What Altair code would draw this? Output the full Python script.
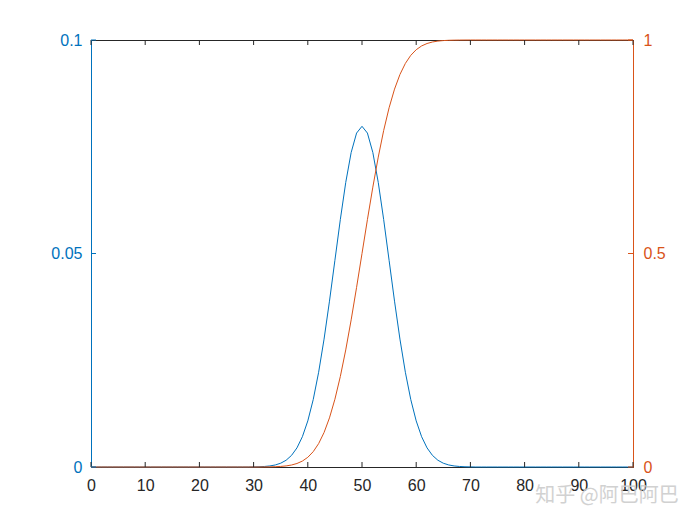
import altair as alt
import pandas as pd

# ---- data ----
x_values = list(range(0, 101))

pdf_values = [
    0, 0, 0, 0, 0, 0, 0, 0, 0, 0,
    0, 0, 0, 0, 0, 0, 0, 0, 0, 0,
    0, 0, 0, 0, 0, 0, 0, 0, 0, 0,
    0.0000268, 0.0000584, 0.000122, 0.000246, 0.000477, 0.000886, 0.001583, 0.002717, 0.004479, 0.007095,
    0.010798, 0.015790, 0.022184, 0.029945, 0.038837, 0.048394, 0.057938, 0.066645, 0.073654, 0.078209,
    0.079788,
    0.078209, 0.073654, 0.066645, 0.057938, 0.048394, 0.038837, 0.029945, 0.022184, 0.015790, 0.010798,
    0.007095, 0.004479, 0.002717, 0.001583, 0.000886, 0.000477, 0.000246, 0.000122, 0.0000584, 0.0000268,
    0, 0, 0, 0, 0, 0, 0, 0, 0, 0,
    0, 0, 0, 0, 0, 0, 0, 0, 0, 0,
    0, 0, 0, 0, 0, 0, 0, 0, 0, 0,
]

cdf_values = [
    0, 0, 0, 0, 0, 0, 0, 0, 0, 0,
    0, 0, 0, 0, 0, 0, 0, 0, 0, 0,
    0, 0, 0, 0, 0, 0, 0, 0, 0, 0,
    0.000032, 0.000072, 0.000159, 0.000337, 0.000687, 0.001350, 0.002555, 0.004661, 0.008198, 0.013903,
    0.022750, 0.035930, 0.054799, 0.080757, 0.115070, 0.158655, 0.211855, 0.274253, 0.344578, 0.420740,
    0.5,
    0.579260, 0.655422, 0.725747, 0.788145, 0.841345, 0.884930, 0.919243, 0.945201, 0.964070, 0.977250,
    0.986097, 0.991802, 0.995339, 0.997445, 0.998650, 0.999313, 0.999663, 0.999841, 0.999928, 0.999968,
    1, 1, 1, 1, 1, 1, 1, 1, 1, 1,
    1, 1, 1, 1, 1, 1, 1, 1, 1, 1,
    1, 1, 1, 1, 1, 1, 1, 1, 1, 1,
]

x_ticks = [0, 10, 20, 30, 40, 50, 60, 70, 80, 90, 100]
left_ticks = [0, 0.05, 0.1]
right_ticks = [0, 0.5, 1]
watermark = ["知乎 @阿巴阿巴"]

# ---- styling ----
W, H = 542, 427
BLUE = "#0072BD"
ORANGE = "#D95319"
DARK = "#262626"
FONT = "Liberation Sans"
FS = 16
TICK = 5

df = pd.DataFrame({"x": x_values, "pdf": pdf_values, "cdf": cdf_values})

xscale = alt.Scale(domain=[0, 100], nice=False, zero=False)
xaxis = alt.Axis(values=x_ticks, ticks=False, labelPadding=10, labelFontSize=FS,
                 labelFont=FONT, labelColor=DARK, domainColor=DARK, grid=False,
                 title=None, format="d", labelFlush=False, labelOverlap=False)

pdf_line = alt.Chart(df).mark_line(color=BLUE, strokeWidth=1).encode(
    x=alt.X("x:Q", scale=xscale, axis=xaxis),
    y=alt.Y("pdf:Q", scale=alt.Scale(domain=[0, 0.1], nice=False),
            axis=alt.Axis(orient="left", values=left_ticks, ticks=False, labelPadding=9,
                          domainColor=BLUE, labelColor=BLUE, labelFontSize=FS, labelFont=FONT,
                          title=None, grid=False, format="~g", labelOverlap=False)),
)

cdf_line = alt.Chart(df).mark_line(color=ORANGE, strokeWidth=1).encode(
    x=alt.X("x:Q", scale=xscale),
    y=alt.Y("cdf:Q", scale=alt.Scale(domain=[0, 1], nice=False),
            axis=alt.Axis(orient="right", values=right_ticks, ticks=False, labelPadding=10,
                          domainColor=ORANGE, labelColor=ORANGE, labelFontSize=FS, labelFont=FONT,
                          title=None, grid=False, format="~g", labelOverlap=False)),
)

xt = pd.DataFrame({"t": x_ticks})
bottom_ticks = alt.Chart(xt).mark_rule(color=DARK, strokeWidth=1).encode(
    x=alt.X("t:Q", scale=xscale),
    y=alt.value(H), y2=alt.value(H - TICK),
)
top_ticks = alt.Chart(xt).mark_rule(color=DARK, strokeWidth=1).encode(
    x=alt.X("t:Q", scale=xscale),
    y=alt.value(0), y2=alt.value(TICK),
)

lt = pd.DataFrame({"v": left_ticks})
left_tick_marks = alt.Chart(lt).mark_rule(color=BLUE, strokeWidth=1).encode(
    y=alt.Y("v:Q", scale=alt.Scale(domain=[0, 0.1], nice=False), axis=None),
    x=alt.value(0), x2=alt.value(TICK),
)
rt = pd.DataFrame({"v": right_ticks})
right_tick_marks = alt.Chart(rt).mark_rule(color=ORANGE, strokeWidth=1).encode(
    y=alt.Y("v:Q", scale=alt.Scale(domain=[0, 1], nice=False), axis=None),
    x=alt.value(W - TICK), x2=alt.value(W),
)

wm = alt.Chart(pd.DataFrame({"label": watermark})).mark_text(
    font="Noto Sans CJK SC", fontSize=20, color="#cdcdcd", opacity=0.9,
    align="center", baseline="middle",
).encode(text="label:N", x=alt.value(516), y=alt.value(456))

chart = alt.layer(
    pdf_line, cdf_line, bottom_ticks, top_ticks, left_tick_marks, right_tick_marks, wm
).resolve_scale(y="independent").properties(
    width=W, height=H,
    autosize=alt.AutoSizeParams(type="none"),
    padding={"left": 83, "top": 32, "right": 59, "bottom": 50},
    background="white",
).configure_view(stroke=DARK, strokeWidth=1)

chart.save("out.html", embed_options={"renderer": "svg", "actions": False})
